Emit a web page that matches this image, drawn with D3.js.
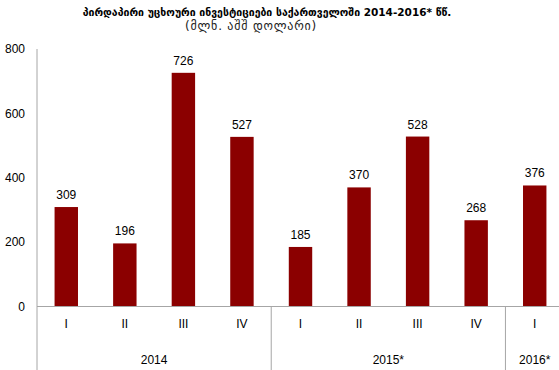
<!DOCTYPE html>
<html><head><meta charset="utf-8">
<script src="https://cdn.jsdelivr.net/npm/d3@7"></script>
<style>body{margin:0;background:#fff}svg{display:block}</style>
</head><body>
<svg id="c" width="559" height="370"></svg>
<script>
const quarters = ["I","II","III","IV","I","II","III","IV","I"];
const years = ["2014","2014","2014","2014","2015*","2015*","2015*","2015*","2016*"];
const values = [309,196,726,527,185,370,528,268,376];
const yTicks = [0,200,400,600,800];
const yearGroups = ["2014","2015*","2016*"];
const title = "პირდაპირი უცხოური ინვესტიციები საქართველოში  2014-2016* წწ.";
const subtitle = "(მლნ. აშშ დოლარი)";

(function(){
const svg = d3.select("#c");
const font = "Arial, 'Liberation Sans', 'DejaVu Sans', sans-serif";
const mLeft = 37, mRight = 564, mTop = 49, mBottom = 306.5;
const idx = values.map((d,i)=>i);
const x = d3.scaleBand().domain(idx).range([mLeft,mRight]).paddingInner(0.6).paddingOuter(0.3);
const y = d3.scaleLinear().domain([0,800]).range([mBottom,mTop]);
const grey = "#a6a6a6";

svg.append("text").attr("x",267).attr("y",16).attr("text-anchor","middle")
  .attr("font-family","'DejaVu Sans', sans-serif").attr("font-weight","bold").attr("font-size",10.5)
  .attr("fill","#000").text(title);
svg.append("text").attr("x",251).attr("y",30).attr("text-anchor","middle")
  .attr("font-family","'DejaVu Sans', sans-serif").attr("font-size",12).attr("letter-spacing",0.8)
  .attr("fill","#222").text(subtitle);

// y axis
const ya = svg.append("g").attr("transform",`translate(${mLeft},0)`)
  .call(d3.axisLeft(y).tickValues(yTicks).tickSize(0).tickPadding(12));
ya.select(".domain").remove();
ya.selectAll("text").attr("font-family",font).attr("font-size",12).attr("fill","#000");
svg.append("line").attr("x1",mLeft).attr("x2",mLeft).attr("y1",mTop).attr("y2",370)
  .attr("stroke",grey).attr("stroke-width",1);

// bars
svg.append("g").selectAll("rect").data(idx).join("rect")
  .attr("x",i=>x(i)).attr("width",x.bandwidth())
  .attr("y",i=>y(values[i])).attr("height",i=>y(0)-y(values[i]))
  .attr("fill","#8b0000");

svg.append("g").selectAll("text").data(idx).join("text")
  .attr("x",i=>x(i)+x.bandwidth()/2).attr("y",i=>y(values[i])-8)
  .attr("text-anchor","middle").attr("font-family",font).attr("font-size",12).attr("fill","#000")
  .text(i=>values[i]);

// zero line
svg.append("line").attr("x1",mLeft).attr("x2",559).attr("y1",y(0)).attr("y2",y(0))
  .attr("stroke",grey).attr("stroke-width",1.2);

// x axis quarter labels
const step = x.step();
const xa = svg.append("g").attr("transform",`translate(0,${y(0)})`)
  .call(d3.axisBottom(x).tickFormat(i=>quarters[i]).tickSize(0).tickPadding(13));
xa.select(".domain").remove();
xa.selectAll("text").attr("font-family",font).attr("font-size",12).attr("fill","#000");

// year groups
const groups = yearGroups.map(g=>{
  const ii = idx.filter(i=>years[i]===g);
  const c0 = x(ii[0]) + x.bandwidth()/2 - step/2;
  const c1 = x(ii[ii.length-1]) + x.bandwidth()/2 + step/2;
  return {g, start: c0, end: c1};
});
svg.append("g").selectAll("line").data(groups.slice(1)).join("line")
  .attr("x1",d=>d.start).attr("x2",d=>d.start).attr("y1",y(0)).attr("y2",370)
  .attr("stroke",grey).attr("stroke-width",1);
svg.append("g").selectAll("text").data(groups).join("text")
  .attr("x",d=>(d.start+d.end)/2).attr("y",364)
  .attr("text-anchor","middle").attr("font-family",font).attr("font-size",12).attr("fill","#000")
  .text(d=>d.g);
})();
</script>
</body></html>
